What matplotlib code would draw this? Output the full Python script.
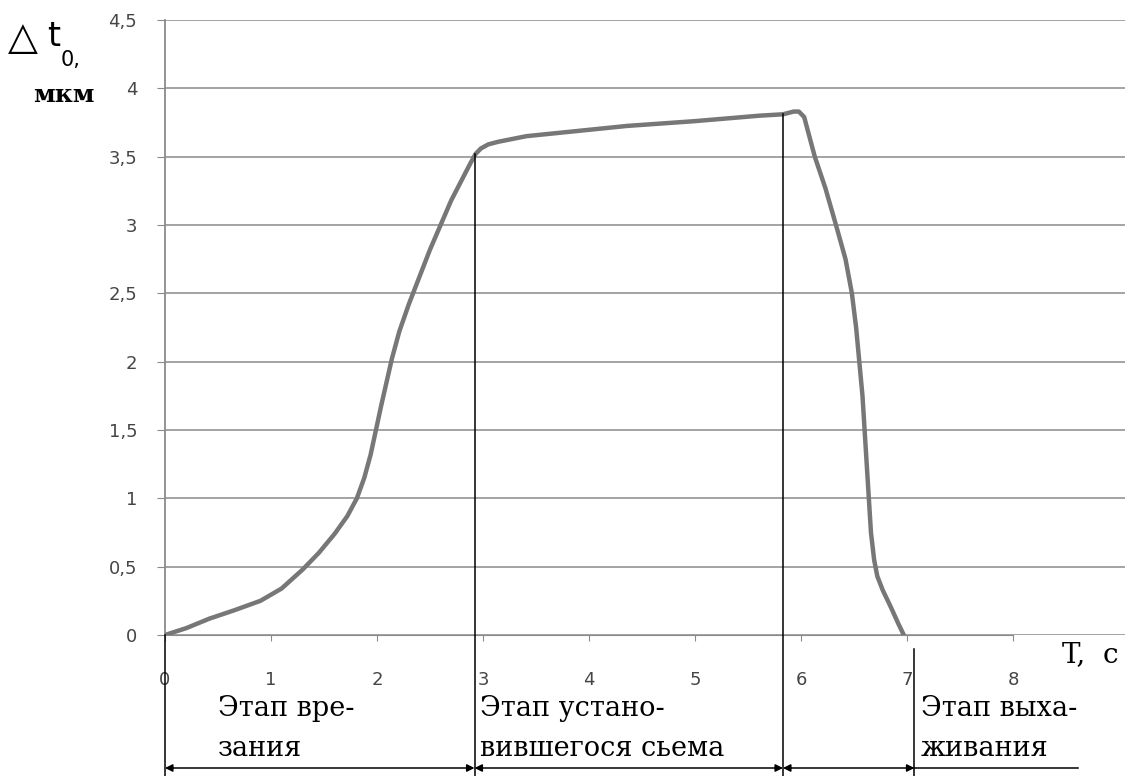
import matplotlib

matplotlib.use("Agg")
import matplotlib.pyplot as plt

# Curve: time T, s  vs  delta t0, um
t_vals = [0.0, 0.2, 0.42, 0.65, 0.9, 1.1, 1.3, 1.45, 1.6, 1.72, 1.81, 1.88,
          1.94, 1.99, 2.04, 2.09, 2.14, 2.21, 2.3, 2.39, 2.5, 2.6, 2.7, 2.8,
          2.88, 2.93, 2.98, 3.05, 3.15, 3.41, 4.36, 5.0, 5.61, 5.83, 5.93,
          5.98, 6.03, 6.13, 6.23, 6.33, 6.42, 6.48, 6.52, 6.55, 6.58, 6.60,
          6.62, 6.64, 6.66, 6.69, 6.72, 6.77, 6.85, 6.92, 6.97]
dt_vals = [0.0, 0.05, 0.12, 0.18, 0.25, 0.34, 0.48, 0.6, 0.74, 0.87, 1.0,
           1.15, 1.32, 1.5, 1.68, 1.85, 2.02, 2.22, 2.42, 2.6, 2.82, 3.0,
           3.18, 3.33, 3.45, 3.52, 3.56, 3.59, 3.61, 3.65, 3.725, 3.76, 3.8,
           3.81, 3.83, 3.83, 3.79, 3.5, 3.27, 3.0, 2.75, 2.5, 2.25, 2.0,
           1.75, 1.5, 1.25, 1.0, 0.75, 0.55, 0.43, 0.33, 0.2, 0.08, 0.0]

y_ticks = [0, 0.5, 1, 1.5, 2, 2.5, 3, 3.5, 4, 4.5]
y_labels = ["0", "0,5", "1", "1,5", "2", "2,5", "3", "3,5", "4", "4,5"]
x_ticks = [0, 1, 2, 3, 4, 5, 6, 7, 8]

# stage boundaries (s) and where each boundary line starts at the top
bounds = [0.0, 2.92, 5.83, 7.07]
bound_top = [0.0, 3.52, 3.81, -0.1]
stage_names = ["Этап вре-\nзания", "Этап устано-\nвившегося сьема",
               "Этап выха-\nживания"]
stage_x = [0.5, 2.97, 7.13]

W, H = 1129, 776
fig = plt.figure(figsize=(W / 100, H / 100), dpi=100)
x0, x1, y0, y1 = 165, 1125, 635, 20
ax = fig.add_axes([x0 / W, 1 - y0 / H, (x1 - x0) / W, (y0 - y1) / H])
px_x = 106.0
px_y = (y0 - y1) / 4.5
ax.set_xlim(0, (x1 - x0) / px_x)
ax.set_ylim(0, 4.5)

grey = "#8a8a8a"
ax.set_yticks(y_ticks)
ax.set_yticklabels(y_labels)
ax.set_xticks(x_ticks)
ax.yaxis.grid(True, color=grey, lw=1.1)
ax.set_axisbelow(True)
for s in ["top", "right"]:
    ax.spines[s].set_visible(False)
ax.spines["left"].set_color(grey)
ax.spines["left"].set_linewidth(1.3)
ax.spines["bottom"].set_color(grey)
ax.spines["bottom"].set_bounds(0, 8)
ax.tick_params(axis="y", length=6, color=grey, labelsize=13,
               labelcolor="#454545", pad=14)
ax.tick_params(axis="x", length=4, color=grey, labelsize=13,
               labelcolor="#454545", pad=22)

ax.plot(t_vals, dt_vals, color="#777777", lw=3.2, solid_capstyle="round",
        solid_joinstyle="round", zorder=3)

# stage boundaries run down below the axis
y_bottom = -(H - y0) / px_y
for b, top in zip(bounds, bound_top):
    ax.plot([b, b], [top, y_bottom], color="black", lw=1.1, clip_on=False,
            zorder=4)

# dimension arrows between the boundaries
y_arr = -(768 - y0) / px_y
for a, b in zip(bounds[:-1], bounds[1:]):
    ax.annotate("", xy=(a, y_arr), xytext=(b, y_arr), annotation_clip=False,
                arrowprops=dict(arrowstyle="<|-|>", color="black", lw=1.1,
                                mutation_scale=11, shrinkA=0, shrinkB=0))
ax.plot([bounds[-1], (1078 - x0) / px_x], [y_arr, y_arr], color="black",
        lw=1.1, clip_on=False)

y_txt = -(695 - y0) / px_y
for name, sx in zip(stage_names, stage_x):
    ax.text(sx, y_txt, name, family="DejaVu Serif", fontsize=19.5,
            ha="left", va="top", linespacing=1.62, clip_on=False)

fig.text(1062 / W, 1 - 655 / H, "T,  c", family="DejaVu Serif",
         fontsize=20, ha="left", va="center")

# axis label in the top-left corner
fig.text(8 / W, 1 - 38 / H, "△", fontsize=28, ha="left", va="center")
fig.text(47 / W, 1 - 37 / H, "t", fontsize=24, ha="left", va="center")
fig.text(61 / W, 1 - 60 / H, "0,", fontsize=15, ha="left", va="center")
fig.text(33 / W, 1 - 95 / H, "мкм", family="DejaVu Serif",
         fontweight="bold", fontsize=18, ha="left", va="center")

fig.savefig("out.png", dpi=100)
